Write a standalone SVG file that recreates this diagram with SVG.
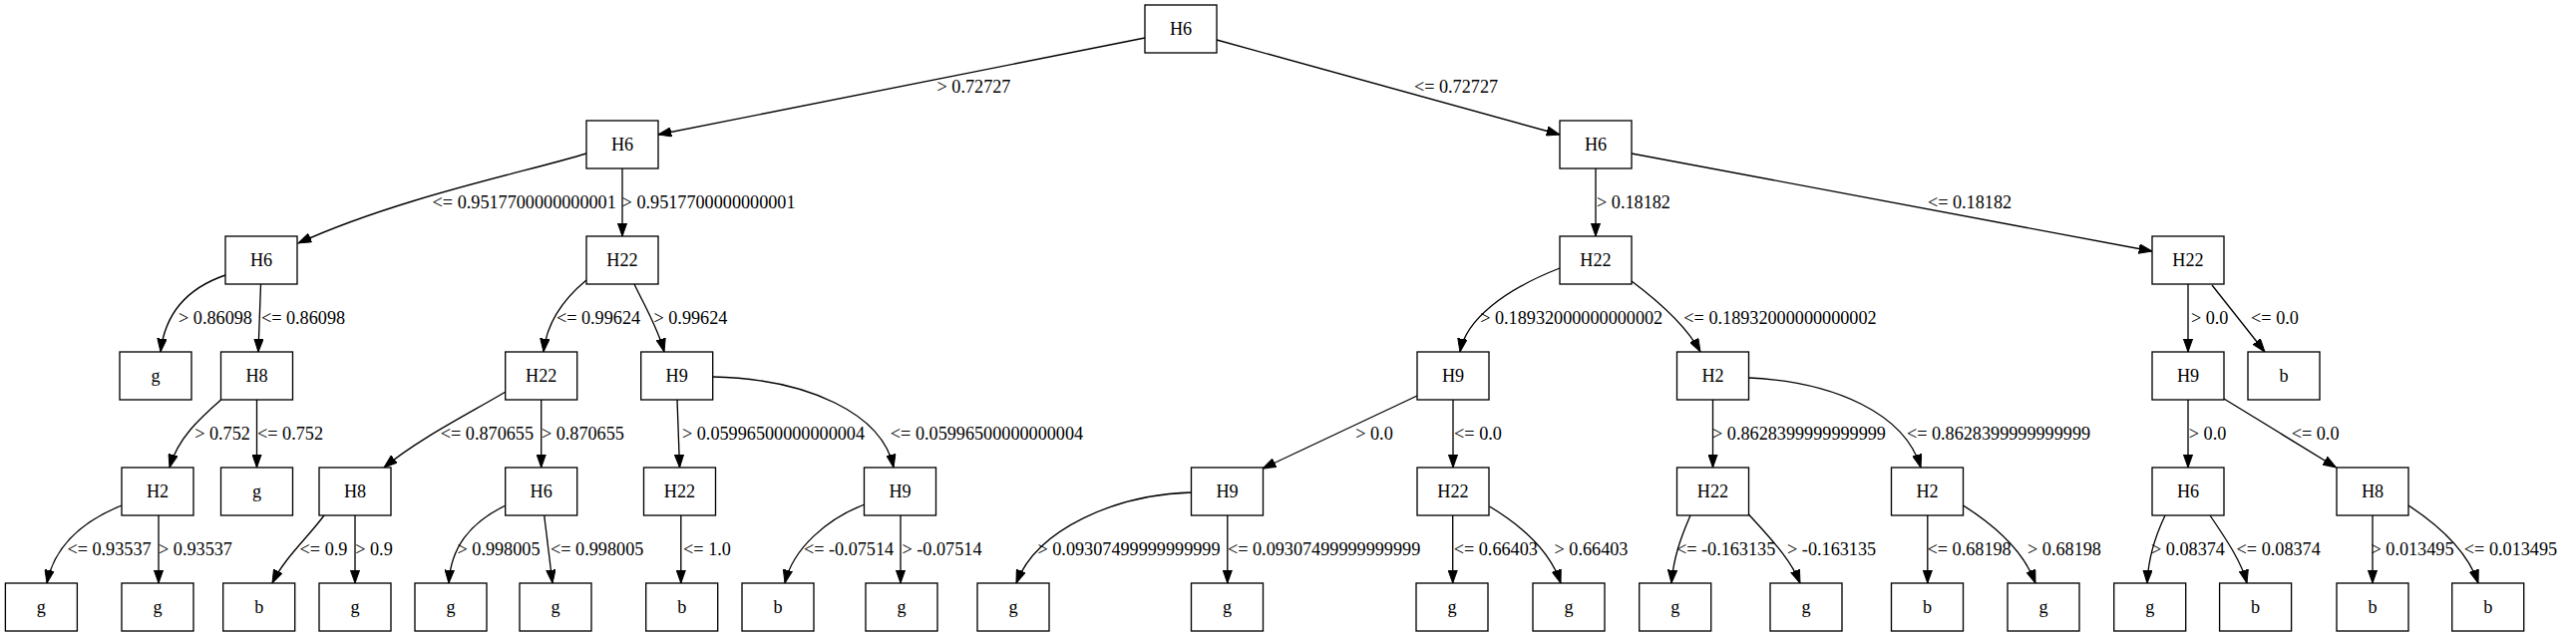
<svg xmlns="http://www.w3.org/2000/svg" width="2583" height="639" viewBox="0 0 2583 639">
<style>
.nd rect{fill:#fff;stroke:#000;stroke-width:1.33}
.nd text,.lb{font-family:"Liberation Serif","Times New Roman",serif;font-size:18.2px;fill:#000;text-anchor:middle}
.ed path{fill:none;stroke:#000;stroke-width:1.33;marker-end:url(#ah)}
</style>
<defs>
<marker id="ah" markerUnits="userSpaceOnUse" markerWidth="14" markerHeight="10" viewBox="0 0 14 10" refX="13.3" refY="5" orient="auto">
<path d="M0,0.3 L13.3,5 L0,9.7 z" fill="#000" stroke="#000" stroke-width="1"/>
</marker>
</defs>
<rect width="2583" height="639" fill="#fff"/>
<g id="connectors" class="ed">
<path d="M1148,38 L660,135"/>
<path d="M1220,40 L1564,135"/>
<path d="M588,154 C530,172 400,198 299,244"/>
<path d="M624,169 L624,237"/>
<path d="M1600,169 L1600,237"/>
<path d="M1636,154 L2158,252"/>
<path d="M226,276 C185,290 165,318 161,353"/>
<path d="M261.5,285 L259,353"/>
<path d="M588,281 C565,300 548,325 545,353"/>
<path d="M636,285 C648,310 660,330 666,353"/>
<path d="M1564,269 C1510,290 1470,320 1464,353"/>
<path d="M1636,282 C1660,300 1690,325 1705,353"/>
<path d="M2194,285 L2194,353"/>
<path d="M2218,286 L2271,353"/>
<path d="M221.6,401 C200,420 178,440 170,469"/>
<path d="M257.5,401 L257.5,469"/>
<path d="M507,393 C470,415 420,440 385,469"/>
<path d="M542.7,401 L542.7,469"/>
<path d="M679,401 L681.5,469"/>
<path d="M715,378 C810,380 885,415 896,469"/>
<path d="M1421,397 L1266,470"/>
<path d="M1457,401 L1457,469"/>
<path d="M1717.5,401 L1717.5,469"/>
<path d="M1753.5,379 C1840,383 1910,415 1926,469"/>
<path d="M2194,401 L2194,469"/>
<path d="M2230,400 L2342.5,469"/>
<path d="M122,507 C85,522 55,545 47,585"/>
<path d="M159,517 L159,585"/>
<path d="M325,517 C308,540 285,560 273,585"/>
<path d="M356,517 L356,585"/>
<path d="M507,507 C470,525 452,550 450,585"/>
<path d="M545.7,517 L554,585"/>
<path d="M682.8,517 L682.8,585"/>
<path d="M867,506 C830,520 795,550 787,585"/>
<path d="M903,517 L903,585"/>
<path d="M1194.6,494 C1120,496 1040,530 1019,585"/>
<path d="M1230.8,517 L1230.8,585"/>
<path d="M1456.7,517 L1456.7,585"/>
<path d="M1493.5,508 C1530,530 1555,555 1565,585"/>
<path d="M1695,517 C1685,540 1678,560 1676,585"/>
<path d="M1753.5,516 C1775,540 1795,560 1805,585"/>
<path d="M1932.8,517 L1932.8,585"/>
<path d="M1968.4,507 C2005,530 2030,555 2041,585"/>
<path d="M2171,517 C2160,540 2154,560 2153,585"/>
<path d="M2216,517 C2235,545 2248,565 2253,585"/>
<path d="M2379,517 L2379,585"/>
<path d="M2415,507 C2450,530 2475,555 2485,585"/>
</g>
<g id="edge-labels">
<text class="lb" x="976.5" y="93">&gt; 0.72727</text>
<text class="lb" x="1460" y="93">&lt;= 0.72727</text>
<text class="lb" x="525.7" y="209">&lt;= 0.9517700000000001</text>
<text class="lb" x="710.6" y="209">&gt; 0.9517700000000001</text>
<text class="lb" x="1638" y="209">&gt; 0.18182</text>
<text class="lb" x="1975" y="209">&lt;= 0.18182</text>
<text class="lb" x="216" y="325">&gt; 0.86098</text>
<text class="lb" x="304" y="325">&lt;= 0.86098</text>
<text class="lb" x="600" y="325">&lt;= 0.99624</text>
<text class="lb" x="692.4" y="325">&gt; 0.99624</text>
<text class="lb" x="1575.7" y="325">&gt; 0.18932000000000002</text>
<text class="lb" x="1785" y="325">&lt;= 0.18932000000000002</text>
<text class="lb" x="2215.7" y="325">&gt; 0.0</text>
<text class="lb" x="2281" y="325">&lt;= 0.0</text>
<text class="lb" x="223" y="441">&gt; 0.752</text>
<text class="lb" x="291" y="441">&lt;= 0.752</text>
<text class="lb" x="488.4" y="441">&lt;= 0.870655</text>
<text class="lb" x="584.4" y="441">&gt; 0.870655</text>
<text class="lb" x="775.5" y="441">&gt; 0.05996500000000004</text>
<text class="lb" x="989.5" y="441">&lt;= 0.05996500000000004</text>
<text class="lb" x="1378" y="441">&gt; 0.0</text>
<text class="lb" x="1482" y="441">&lt;= 0.0</text>
<text class="lb" x="1804" y="441">&gt; 0.8628399999999999</text>
<text class="lb" x="2004" y="441">&lt;= 0.8628399999999999</text>
<text class="lb" x="2213.6" y="441">&gt; 0.0</text>
<text class="lb" x="2321.6" y="441">&lt;= 0.0</text>
<text class="lb" x="109.5" y="557">&lt;= 0.93537</text>
<text class="lb" x="196" y="557">&gt; 0.93537</text>
<text class="lb" x="324.5" y="557">&lt;= 0.9</text>
<text class="lb" x="375" y="557">&gt; 0.9</text>
<text class="lb" x="500" y="557">&gt; 0.998005</text>
<text class="lb" x="598.7" y="557">&lt;= 0.998005</text>
<text class="lb" x="709" y="557">&lt;= 1.0</text>
<text class="lb" x="851" y="557">&lt;= -0.07514</text>
<text class="lb" x="944.5" y="557">&gt; -0.07514</text>
<text class="lb" x="1132" y="557">&gt; 0.09307499999999999</text>
<text class="lb" x="1327.6" y="557">&lt;= 0.09307499999999999</text>
<text class="lb" x="1499.8" y="557">&lt;= 0.66403</text>
<text class="lb" x="1595.5" y="557">&gt; 0.66403</text>
<text class="lb" x="1730.6" y="557">&lt;= -0.163135</text>
<text class="lb" x="1836.6" y="557">&gt; -0.163135</text>
<text class="lb" x="1974.6" y="557">&lt;= 0.68198</text>
<text class="lb" x="2070" y="557">&gt; 0.68198</text>
<text class="lb" x="2194" y="557">&gt; 0.08374</text>
<text class="lb" x="2284.7" y="557">&lt;= 0.08374</text>
<text class="lb" x="2419" y="557">&gt; 0.013495</text>
<text class="lb" x="2517.5" y="557">&lt;= 0.013495</text>
</g>
<g id="nodes">
<g id="n0" class="nd"><rect x="1148" y="5" width="72" height="48"/><text x="1184" y="35">H6</text></g>
<g id="n1" class="nd"><rect x="588" y="121" width="72" height="48"/><text x="624" y="151">H6</text></g>
<g id="n2" class="nd"><rect x="1564" y="121" width="72" height="48"/><text x="1600" y="151">H6</text></g>
<g id="n3" class="nd"><rect x="226" y="237" width="72" height="48"/><text x="262" y="267">H6</text></g>
<g id="n4" class="nd"><rect x="588" y="237" width="72" height="48"/><text x="624" y="267">H22</text></g>
<g id="n5" class="nd"><rect x="1564" y="237" width="72" height="48"/><text x="1600" y="267">H22</text></g>
<g id="n6" class="nd"><rect x="2158" y="237" width="72" height="48"/><text x="2194" y="267">H22</text></g>
<g id="n7" class="nd"><rect x="120" y="353" width="72" height="48"/><text x="156" y="383">g</text></g>
<g id="n8" class="nd"><rect x="221.5" y="353" width="72" height="48"/><text x="257.5" y="383">H8</text></g>
<g id="n9" class="nd"><rect x="506.7" y="353" width="72" height="48"/><text x="542.7" y="383">H22</text></g>
<g id="n10" class="nd"><rect x="642.7" y="353" width="72" height="48"/><text x="678.7" y="383">H9</text></g>
<g id="n11" class="nd"><rect x="1421" y="353" width="72" height="48"/><text x="1457" y="383">H9</text></g>
<g id="n12" class="nd"><rect x="1681.5" y="353" width="72" height="48"/><text x="1717.5" y="383">H2</text></g>
<g id="n13" class="nd"><rect x="2158" y="353" width="72" height="48"/><text x="2194" y="383">H9</text></g>
<g id="n14" class="nd"><rect x="2254" y="353" width="72" height="48"/><text x="2290" y="383">b</text></g>
<g id="n15" class="nd"><rect x="122" y="469" width="72" height="48"/><text x="158" y="499">H2</text></g>
<g id="n16" class="nd"><rect x="221.5" y="469" width="72" height="48"/><text x="257.5" y="499">g</text></g>
<g id="n17" class="nd"><rect x="320" y="469" width="72" height="48"/><text x="356" y="499">H8</text></g>
<g id="n18" class="nd"><rect x="506.7" y="469" width="72" height="48"/><text x="542.7" y="499">H6</text></g>
<g id="n19" class="nd"><rect x="645.5" y="469" width="72" height="48"/><text x="681.5" y="499">H22</text></g>
<g id="n20" class="nd"><rect x="866.5" y="469" width="72" height="48"/><text x="902.5" y="499">H9</text></g>
<g id="n21" class="nd"><rect x="1194.5" y="469" width="72" height="48"/><text x="1230.5" y="499">H9</text></g>
<g id="n22" class="nd"><rect x="1421" y="469" width="72" height="48"/><text x="1457" y="499">H22</text></g>
<g id="n23" class="nd"><rect x="1681.5" y="469" width="72" height="48"/><text x="1717.5" y="499">H22</text></g>
<g id="n24" class="nd"><rect x="1896.5" y="469" width="72" height="48"/><text x="1932.5" y="499">H2</text></g>
<g id="n25" class="nd"><rect x="2158" y="469" width="72" height="48"/><text x="2194" y="499">H6</text></g>
<g id="n26" class="nd"><rect x="2343" y="469" width="72" height="48"/><text x="2379" y="499">H8</text></g>
<g id="n27" class="nd"><rect x="5.4" y="585" width="72" height="48"/><text x="41.4" y="615">g</text></g>
<g id="n28" class="nd"><rect x="122" y="585" width="72" height="48"/><text x="158" y="615">g</text></g>
<g id="n29" class="nd"><rect x="223.7" y="585" width="72" height="48"/><text x="259.7" y="615">b</text></g>
<g id="n30" class="nd"><rect x="320" y="585" width="72" height="48"/><text x="356" y="615">g</text></g>
<g id="n31" class="nd"><rect x="416" y="585" width="72" height="48"/><text x="452" y="615">g</text></g>
<g id="n32" class="nd"><rect x="521" y="585" width="72" height="48"/><text x="557" y="615">g</text></g>
<g id="n33" class="nd"><rect x="647.7" y="585" width="72" height="48"/><text x="683.7" y="615">b</text></g>
<g id="n34" class="nd"><rect x="744" y="585" width="72" height="48"/><text x="780" y="615">b</text></g>
<g id="n35" class="nd"><rect x="868" y="585" width="72" height="48"/><text x="904" y="615">g</text></g>
<g id="n36" class="nd"><rect x="980" y="585" width="72" height="48"/><text x="1016" y="615">g</text></g>
<g id="n37" class="nd"><rect x="1194.5" y="585" width="72" height="48"/><text x="1230.5" y="615">g</text></g>
<g id="n38" class="nd"><rect x="1420" y="585" width="72" height="48"/><text x="1456" y="615">g</text></g>
<g id="n39" class="nd"><rect x="1537" y="585" width="72" height="48"/><text x="1573" y="615">g</text></g>
<g id="n40" class="nd"><rect x="1643.7" y="585" width="72" height="48"/><text x="1679.7" y="615">g</text></g>
<g id="n41" class="nd"><rect x="1775" y="585" width="72" height="48"/><text x="1811" y="615">g</text></g>
<g id="n42" class="nd"><rect x="1896.5" y="585" width="72" height="48"/><text x="1932.5" y="615">b</text></g>
<g id="n43" class="nd"><rect x="2013" y="585" width="72" height="48"/><text x="2049" y="615">g</text></g>
<g id="n44" class="nd"><rect x="2119.7" y="585" width="72" height="48"/><text x="2155.7" y="615">g</text></g>
<g id="n45" class="nd"><rect x="2225.6" y="585" width="72" height="48"/><text x="2261.6" y="615">b</text></g>
<g id="n46" class="nd"><rect x="2343" y="585" width="72" height="48"/><text x="2379" y="615">b</text></g>
<g id="n47" class="nd"><rect x="2458.7" y="585" width="72" height="48"/><text x="2494.7" y="615">b</text></g>
</g>
</svg>
